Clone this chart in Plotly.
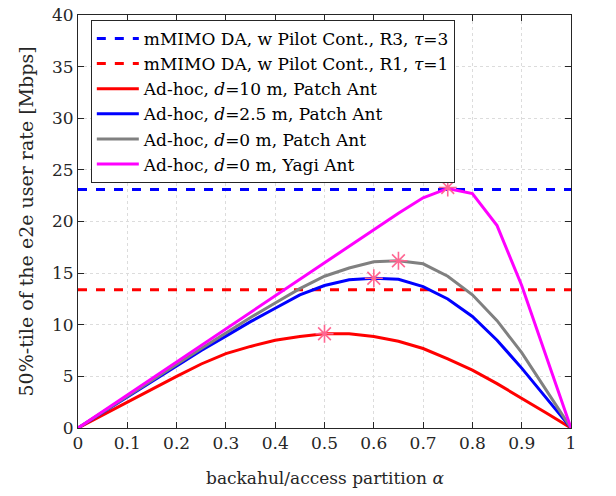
import plotly.graph_objects as go

alpha = [0, 0.05, 0.1, 0.15, 0.2, 0.25, 0.3, 0.35, 0.4, 0.45, 0.5,
         0.55, 0.6, 0.65, 0.7, 0.75, 0.8, 0.85, 0.9, 0.95, 1.0]

r3_level = 23.1
r1_level = 13.4

adhoc_d10_patch = [0, 1.25, 2.5, 3.8, 5.0, 6.2, 7.2, 7.9, 8.5, 8.87, 9.13,
                   9.13, 8.87, 8.4, 7.7, 6.7, 5.6, 4.3, 2.9, 1.45, 0]
adhoc_d25_patch = [0, 1.5, 3.0, 4.5, 6.0, 7.5, 8.9, 10.3, 11.6, 12.9, 13.8,
                   14.35, 14.5, 14.4, 13.7, 12.5, 10.8, 8.5, 5.8, 2.9, 0]
adhoc_d0_patch = [0, 1.55, 3.1, 4.6, 6.2, 7.7, 9.2, 10.7, 12.1, 13.5, 14.7,
                  15.5, 16.1, 16.2, 15.9, 14.7, 12.9, 10.4, 7.3, 3.7, 0]
adhoc_d0_yagi = [0, 1.6, 3.2, 4.8, 6.4, 8.0, 9.6, 11.2, 12.8, 14.4, 16.0,
                 17.6, 19.2, 20.8, 22.3, 23.2, 22.7, 19.6, 13.8, 6.9, 0]

peak_x = [0.5, 0.6, 0.65, 0.75]
peak_y = [9.13, 14.5, 16.2, 23.3]

x_ticks = [0, 0.1, 0.2, 0.3, 0.4, 0.5, 0.6, 0.7, 0.8, 0.9, 1]
x_tick_labels = ["0", "0.1", "0.2", "0.3", "0.4", "0.5", "0.6", "0.7", "0.8", "0.9", "1"]
y_ticks = [0, 5, 10, 15, 20, 25, 30, 35, 40]

FONT = "DejaVu Serif"
TXT = "#262626"
fig = go.Figure()

series = [
    ([0, 1], [r3_level, r3_level], "#0000ff", "dash", "mMIMO DA, w Pilot Cont., R3, <i>τ</i>=3"),
    ([0, 1], [r1_level, r1_level], "#ff0000", "dash", "mMIMO DA, w Pilot Cont., R1, <i>τ</i>=1"),
    (alpha, adhoc_d10_patch, "#ff0000", "solid", "Ad-hoc, <i>d</i>=10 m, Patch Ant"),
    (alpha, adhoc_d25_patch, "#0000ff", "solid", "Ad-hoc, <i>d</i>=2.5 m, Patch Ant"),
    (alpha, adhoc_d0_patch, "#808080", "solid", "Ad-hoc, <i>d</i>=0 m, Patch Ant"),
    (alpha, adhoc_d0_yagi, "#ff00ff", "solid", "Ad-hoc, <i>d</i>=0 m, Yagi Ant"),
]
for i, (xs, ys, col, dash, name) in enumerate(series):
    fig.add_trace(go.Scatter(x=xs, y=ys, mode="lines", name=name,
                             legendgroup=f"g{i}",
                             line=dict(color=col, width=3, dash=dash)))

fig.add_trace(go.Scatter(x=peak_x, y=peak_y, mode="markers",
                         marker=dict(symbol="asterisk-open", size=15,
                                     line=dict(color="#ff0000", width=1.6)),
                         showlegend=False))

axis_common = dict(showline=True, linecolor=TXT, linewidth=1, mirror="ticks",
                   ticks="inside", ticklen=6, tickcolor=TXT,
                   showgrid=True, gridcolor="#dcdcdc", griddash="dot", gridwidth=1,
                   zeroline=False, automargin=False,
                   tickfont=dict(family=FONT, size=17, color=TXT))

fig.update_xaxes(range=[0, 1], tickvals=x_ticks, ticktext=x_tick_labels, **axis_common)
fig.update_yaxes(range=[0, 40], tickvals=y_ticks, **axis_common)

fig.add_annotation(text="backahul/access partition <i>α</i>", xref="paper", yref="paper",
                   x=0.5, y=-0.121, xanchor="center", yanchor="middle", showarrow=False,
                   font=dict(family=FONT, size=17, color=TXT))
fig.add_annotation(text="50%-tile of the e2e user rate [Mbps]", xref="paper", yref="paper",
                   x=-0.1075, y=0.5, xanchor="center", yanchor="middle", showarrow=False,
                   textangle=-90, font=dict(family=FONT, size=19, color=TXT))

fig.update_layout(
    width=616, height=496,
    margin=dict(l=78, r=45, t=15, b=68),
    paper_bgcolor="white", plot_bgcolor="white",
    font=dict(family=FONT, color="#000000"),
    legend=dict(x=0.026, y=0.988, xanchor="left", yanchor="top",
                bgcolor="white", bordercolor=TXT, borderwidth=1,
                font=dict(family=FONT, size=17, color="#000000"),
                tracegroupgap=0, itemwidth=42),
)

fig.write_html("out.html", config={"displayModeBar": False},
               post_script="document.body.style.margin='0';")
